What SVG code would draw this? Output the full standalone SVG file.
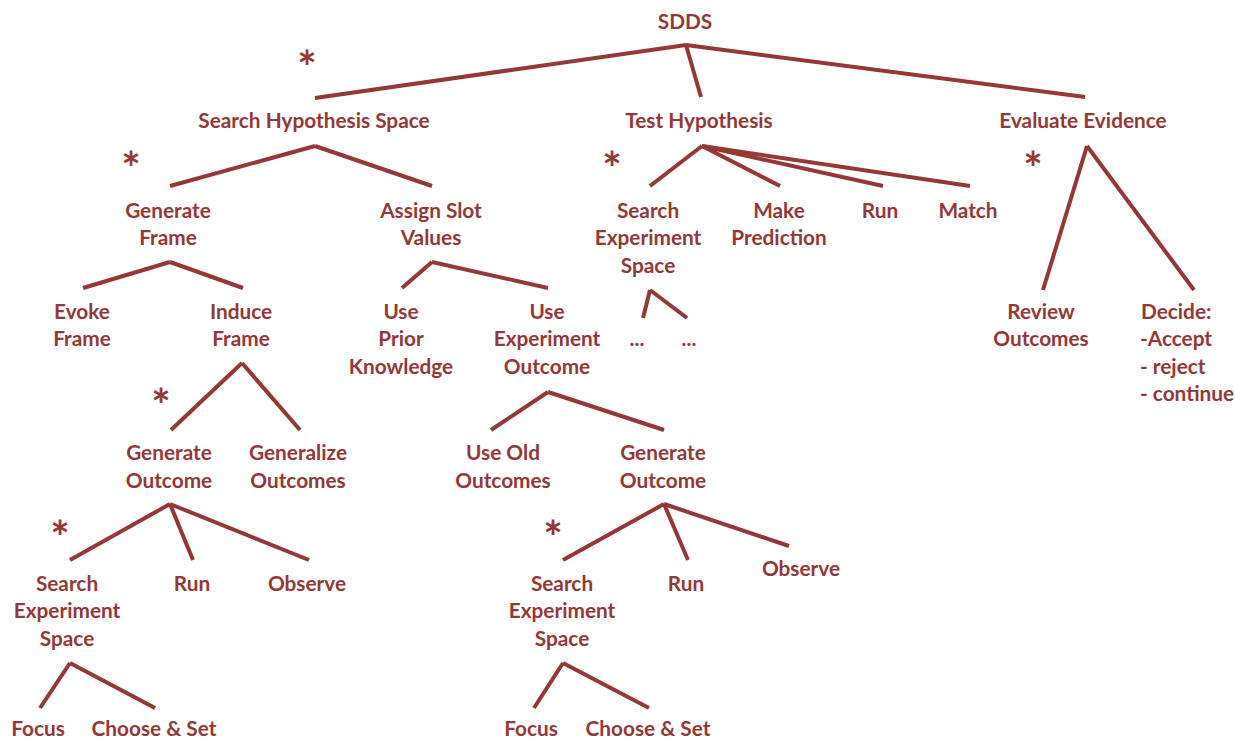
<svg xmlns="http://www.w3.org/2000/svg" width="1235" height="740" viewBox="0 0 1235 740">
<style>
text{font-family:"Lato","Open Sans","Liberation Sans",sans-serif;font-weight:bold;font-size:20.8px;fill:#953735;text-anchor:middle}
text.ast{font-size:46px}
text.l{text-anchor:start}
#connectors line{stroke:#953735;stroke-width:4;stroke-linecap:butt}
</style>
<rect width="1235" height="740" fill="#fff"/>
<g id="connectors">
<line x1="686" y1="45" x2="315" y2="98"/>
<line x1="686" y1="45" x2="701" y2="97"/>
<line x1="686" y1="45" x2="1085" y2="97"/>
<line x1="315" y1="146" x2="170" y2="186"/>
<line x1="315" y1="146" x2="432" y2="186"/>
<line x1="702" y1="146" x2="650" y2="186"/>
<line x1="702" y1="146" x2="780" y2="186"/>
<line x1="702" y1="146" x2="883" y2="186"/>
<line x1="702" y1="146" x2="970" y2="186"/>
<line x1="1087" y1="146" x2="1043" y2="290"/>
<line x1="1087" y1="146" x2="1194" y2="290"/>
<line x1="170" y1="262" x2="83" y2="288"/>
<line x1="170" y1="262" x2="243" y2="288"/>
<line x1="432" y1="262" x2="402" y2="288"/>
<line x1="432" y1="262" x2="548" y2="288"/>
<line x1="650" y1="290" x2="643" y2="318"/>
<line x1="650" y1="290" x2="687" y2="318"/>
<line x1="242" y1="363" x2="171" y2="430"/>
<line x1="242" y1="363" x2="300" y2="430"/>
<line x1="548" y1="392" x2="491" y2="430"/>
<line x1="548" y1="392" x2="664" y2="430"/>
<line x1="170" y1="504" x2="70" y2="560"/>
<line x1="170" y1="504" x2="193" y2="560"/>
<line x1="170" y1="504" x2="309" y2="560"/>
<line x1="664" y1="504" x2="563" y2="560"/>
<line x1="664" y1="504" x2="688" y2="560"/>
<line x1="664" y1="504" x2="789" y2="546"/>
<line x1="70" y1="663" x2="40" y2="708"/>
<line x1="70" y1="663" x2="155" y2="708"/>
<line x1="563" y1="663" x2="534" y2="708"/>
<line x1="563" y1="663" x2="649" y2="708"/>
</g>
<g id="asterisks">
<text class="ast" x="307" y="84">*</text>
<text class="ast" x="131" y="185">*</text>
<text class="ast" x="612" y="185">*</text>
<text class="ast" x="1033" y="185">*</text>
<text class="ast" x="161" y="422">*</text>
<text class="ast" x="60" y="554">*</text>
<text class="ast" x="553" y="554">*</text>
</g>
<g id="n-sdds"><text x="685" y="29">SDDS</text></g>
<g id="n-shs"><text x="314" y="128">Search Hypothesis Space</text></g>
<g id="n-th"><text x="699" y="128">Test Hypothesis</text></g>
<g id="n-ee"><text x="1083" y="128">Evaluate Evidence</text></g>
<g id="n-gf"><text x="168" y="218">Generate</text><text x="168" y="245">Frame</text></g>
<g id="n-asv"><text x="431" y="218">Assign Slot</text><text x="431" y="245">Values</text></g>
<g id="n-ses1"><text x="648" y="218">Search</text><text x="648" y="245">Experiment</text><text x="648" y="273">Space</text></g>
<g id="n-mp"><text x="779" y="218">Make</text><text x="779" y="245">Prediction</text></g>
<g id="n-run1"><text x="880" y="218">Run</text></g>
<g id="n-match"><text x="968" y="218">Match</text></g>
<g id="n-ef"><text x="82" y="319">Evoke</text><text x="82" y="346">Frame</text></g>
<g id="n-if"><text x="241" y="319">Induce</text><text x="241" y="346">Frame</text></g>
<g id="n-upk"><text x="401" y="319">Use</text><text x="401" y="346">Prior</text><text x="401" y="374">Knowledge</text></g>
<g id="n-ueo"><text x="547" y="319">Use</text><text x="547" y="346">Experiment</text><text x="547" y="374">Outcome</text></g>
<g id="n-dots1"><text x="637" y="346">...</text></g>
<g id="n-dots2"><text x="689" y="346">...</text></g>
<g id="n-ro"><text x="1041" y="319">Review</text><text x="1041" y="346">Outcomes</text></g>
<g id="n-dec"><text class="l" x="1141" y="319">Decide:</text><text class="l" x="1140" y="346">-Accept</text><text class="l" x="1140" y="374">- reject</text><text class="l" x="1140" y="401">- continue</text></g>
<g id="n-go1"><text x="169" y="460">Generate</text><text x="169" y="488">Outcome</text></g>
<g id="n-gzo"><text x="298" y="460">Generalize</text><text x="298" y="488">Outcomes</text></g>
<g id="n-uoo"><text x="503" y="460">Use Old</text><text x="503" y="488">Outcomes</text></g>
<g id="n-go2"><text x="663" y="460">Generate</text><text x="663" y="488">Outcome</text></g>
<g id="n-ses2"><text x="67" y="591">Search</text><text x="67" y="618">Experiment</text><text x="67" y="646">Space</text></g>
<g id="n-run2"><text x="192" y="591">Run</text></g>
<g id="n-obs1"><text x="307" y="591">Observe</text></g>
<g id="n-ses3"><text x="562" y="591">Search</text><text x="562" y="618">Experiment</text><text x="562" y="646">Space</text></g>
<g id="n-run3"><text x="686" y="591">Run</text></g>
<g id="n-obs2"><text x="801" y="576">Observe</text></g>
<g id="n-focus1"><text x="38" y="736">Focus</text></g>
<g id="n-cs1"><text x="154" y="736">Choose &amp; Set</text></g>
<g id="n-focus2"><text x="531" y="736">Focus</text></g>
<g id="n-cs2"><text x="648" y="736">Choose &amp; Set</text></g>
</svg>
